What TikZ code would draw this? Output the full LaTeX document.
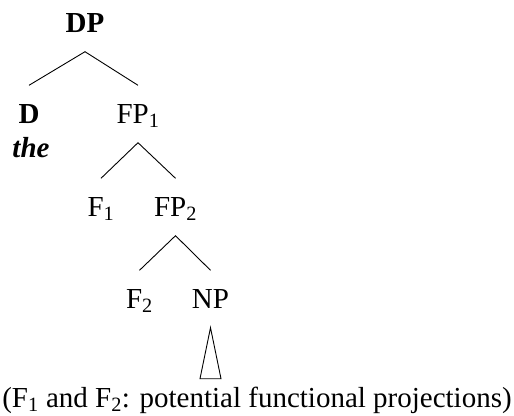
\documentclass[tikz,border=0pt]{standalone}
\usepackage{fontspec}
\setmainfont{Liberation Serif}
\begin{document}
\begin{tikzpicture}[x=1pt,y=-1pt,
  treenode/.style={anchor=base, inner xsep=0pt, inner ysep=19.5pt,
    text height=18pt, text depth=0pt},
  branch/.style={line width=0.9pt},
  every node/.style={font=\fontsize{29}{34}\selectfont}]
  \useasboundingbox (0,0) rectangle (514,415);
  % tree nodes, placed by their baselines
  \node[treenode] (dp)  at (85,32)    {\textbf{DP}};
  \node[treenode] (d)   at (29,123)   {\textbf{D}};
  \node[anchor=base, inner sep=0pt] (the) at (31,157) {\textbf{\textit{the}}};
  \node[treenode] (fp1) at (138,123)  {FP\textsubscript{1}};
  \node[treenode] (f1)  at (101,216)  {F\textsubscript{1}};
  \node[treenode] (fp2) at (175.5,216) {FP\textsubscript{2}};
  \node[treenode] (f2)  at (139.5,308) {F\textsubscript{2}};
  \node[treenode] (np)  at (210.5,308) {NP};
  % branches
  \draw[branch] (d.north) -- (dp.south) -- (fp1.north);
  \draw[branch] (f1.north) -- (fp1.south) -- (fp2.north);
  \draw[branch] (f2.north) -- (fp2.south) -- (np.north);
  % triangle under NP
  \draw[branch, line join=miter] (np.south) -- ++(-10.5,51) -- ++(21,0) -- cycle;
  % caption
  \node[anchor=base, inner sep=0pt] (caption) at (257,407)
    {(F\textsubscript{1} and F\textsubscript{2}: potential functional projections)};
\end{tikzpicture}
\end{document}
